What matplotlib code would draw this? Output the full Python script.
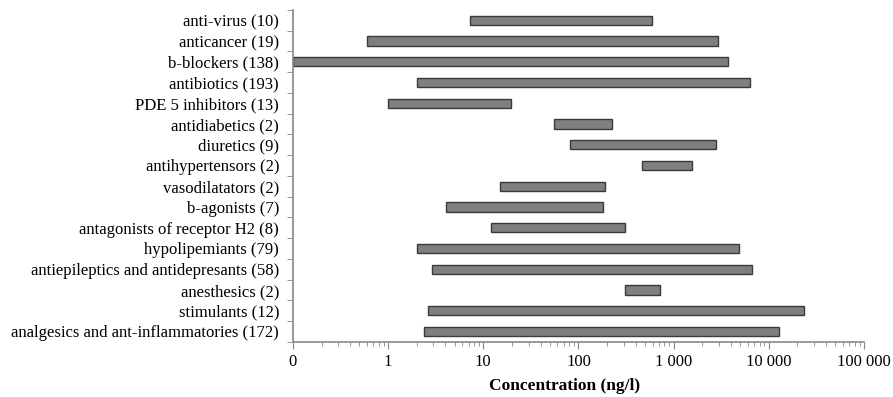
import numpy as np
import matplotlib.pyplot as plt
from matplotlib.ticker import FixedLocator, LogLocator, NullFormatter

# categories top to bottom
categories = ['anti-virus (10)', 'anticancer (19)', 'b-blockers (138)',
              'antibiotics (193)', 'PDE 5 inhibitors (13)', 'antidiabetics (2)',
              'diuretics (9)', 'antihypertensors (2)', 'vasodilatators (2)',
              'b-agonists (7)', 'antagonists of receptor H2 (8)',
              'hypolipemiants (79)', 'antiepileptics and antidepresants (58)',
              'anesthesics (2)', 'stimulants (12)',
              'analgesics and ant-inflammatories (172)']
conc_min = [7.2, 0.6, 0.1, 2.0, 1.0, 55, 82, 460, 15,
            4.1, 12, 2.0, 2.9, 305, 2.6, 2.4]
conc_max = [590, 2950, 3770, 6300, 19.6, 226, 2790, 1570, 192,
            180, 312, 4900, 6600, 724, 23400, 12700]
tick_vals = [0.1, 1, 10, 100, 1000, 10000, 100000]
tick_labels = ['0', '1', '10', '100', '1 000', '10 000', '100 000']

plt.rcParams['font.family'] = ['Liberation Serif', 'DejaVu Serif']

fig = plt.figure(figsize=(8.93, 3.97), dpi=100)
ax = fig.add_axes([0.328, 0.139, 0.6395, 0.836])

n = len(categories)
y = np.arange(n)[::-1]
lo = np.array(conc_min)
hi = np.array(conc_max)
ax.barh(y, hi - lo, left=lo, height=0.45, color='#7f7f7f',
        edgecolor='#3a3a3a', linewidth=1.0)

ax.set_xscale('log')
ax.set_xlim(0.1, 100000)
ax.set_ylim(-0.5, n - 0.5)

ax.set_xticks(tick_vals)
ax.set_xticklabels(tick_labels, fontsize=12)
ax.xaxis.set_minor_locator(LogLocator(base=10, subs=np.arange(2, 10)))
ax.xaxis.set_minor_formatter(NullFormatter())

ax.set_yticks(y)
ax.set_yticklabels(categories, fontsize=12)
ax.yaxis.set_minor_locator(FixedLocator(np.arange(-0.5, n, 1.0)))
ax.tick_params(axis='y', which='major', length=0, pad=10)
ax.tick_params(axis='y', which='minor', length=4, direction='out', color='#888888')
ax.tick_params(axis='x', which='major', length=5, direction='out', color='#888888', pad=4)
ax.tick_params(axis='x', which='minor', length=3, direction='out', color='#888888')

for s in ['top', 'right']:
    ax.spines[s].set_visible(False)
for s in ['left', 'bottom']:
    ax.spines[s].set_color('#888888')
    ax.spines[s].set_linewidth(1.2)

ax.set_xlabel('Concentration (ng/l)', fontsize=12.5, fontweight='bold', labelpad=5)
ax.xaxis.set_label_coords(0.475, -0.11)

plt.savefig('out.png', dpi=100)
